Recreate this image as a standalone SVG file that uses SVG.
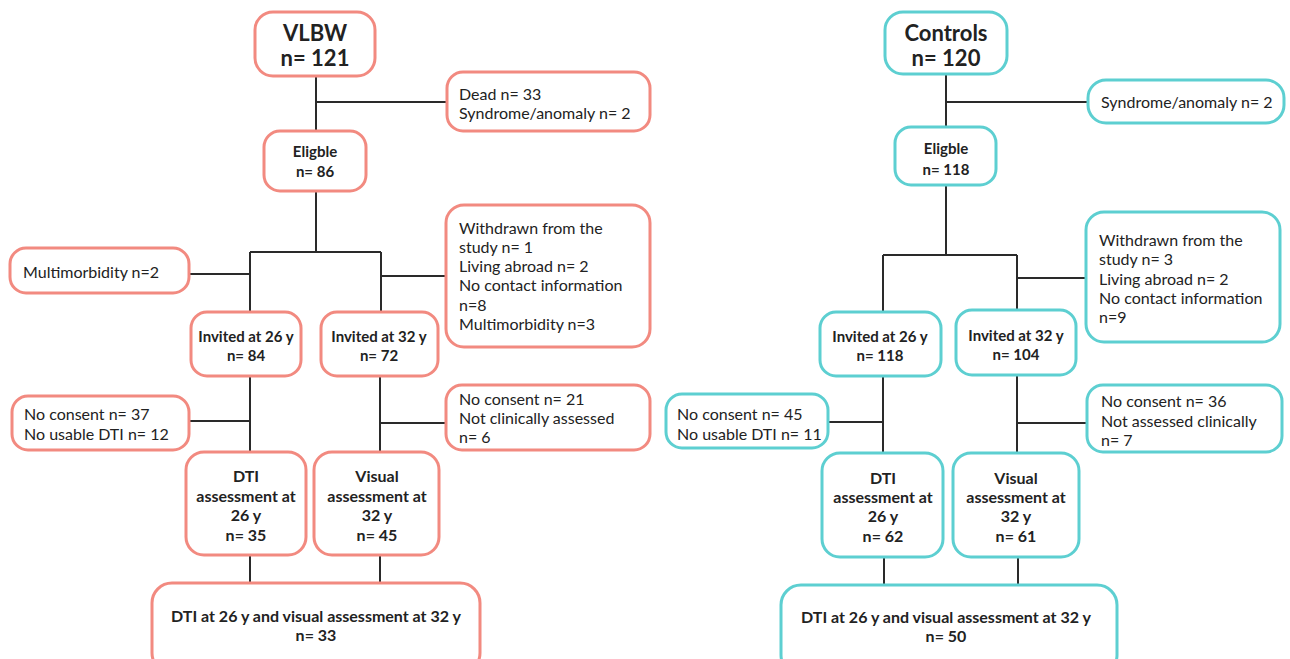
<svg xmlns="http://www.w3.org/2000/svg" width="1290" height="659" viewBox="0 0 1290 659">
<style>
.bg{fill:#ffffff}
.s{fill:#ffffff;stroke:#f28a80;stroke-width:3}
.c{fill:#ffffff;stroke:#5dcfd1;stroke-width:3}
.t{font-family:Lato,"Liberation Sans",sans-serif;font-size:16px;fill:#222}
.b{font-family:Lato,"Liberation Sans",sans-serif;font-size:15px;font-weight:bold;fill:#222;text-anchor:middle}
.bl{font-size:16px}
.h{font-family:Lato,"Liberation Sans",sans-serif;font-size:22px;font-weight:bold;fill:#222;text-anchor:middle}
.ln{stroke:#2a2a2a;stroke-width:2;fill:none}
</style>
<rect class="bg" x="0" y="0" width="1290" height="659"/>
<g id="connectors">
<path class="ln" d="M316 76V132M316 102H447M316 190V252M250 252H381M250 252V312M381 252V312M189 274H250M381 276H446M250 376V452M189 421H250M380 376V452M380 423H446M250 555V583M380 555V583"/>
<path class="ln" d="M946 73V127M946 102H1088M946 185V255M883 255H1017M883 255V312M1017 255V310M1017 278H1086M883 375V453M828 422H883M1017 375V453M1017 423H1087M884 557V585M1018 557V585"/>
</g>
<g id="vlbw"><rect class="s" x="255" y="12" width="120" height="64" rx="18"/><text class="h" x="315" y="41">VLBW</text><text class="h" x="315" y="66">n= 121</text></g>
<g id="vlbw-excl1"><rect class="s" x="447" y="72" width="203" height="59" rx="16"/><text class="t" x="459" y="100">Dead n= 33</text><text class="t" x="459" y="119">Syndrome/anomaly n= 2</text></g>
<g id="vlbw-eligible"><rect class="s" x="264" y="131" width="102" height="60" rx="16"/><text class="b" x="315" y="157">Eligble</text><text class="b" x="315" y="177">n= 86</text></g>
<g id="vlbw-multi"><rect class="s" x="10" y="248" width="179" height="45" rx="16"/><text class="t" x="23" y="278">Multimorbidity n=2</text></g>
<g id="vlbw-excl2"><rect class="s" x="446" y="205" width="204" height="142" rx="18"/><text class="t" x="459" y="234">Withdrawn from the</text><text class="t" x="459" y="253">study n= 1</text><text class="t" x="459" y="272">Living abroad n= 2</text><text class="t" x="459" y="291">No contact information</text><text class="t" x="459" y="311">n=8</text><text class="t" x="459" y="330">Multimorbidity n=3</text></g>
<g id="vlbw-inv26"><rect class="s" x="191" y="312" width="110" height="64" rx="16"/><text class="b" x="246" y="342">Invited at 26 y</text><text class="b" x="246" y="361">n= 84</text></g>
<g id="vlbw-inv32"><rect class="s" x="321" y="312" width="117" height="64" rx="16"/><text class="b" x="379" y="342">Invited at 32 y</text><text class="b" x="379" y="361">n= 72</text></g>
<g id="vlbw-excl3"><rect class="s" x="12" y="396" width="177" height="54" rx="16"/><text class="t" x="24" y="420">No consent n= 37</text><text class="t" x="24" y="440">No usable DTI n= 12</text></g>
<g id="vlbw-excl4"><rect class="s" x="446" y="385" width="204" height="65" rx="16"/><text class="t" x="459" y="405">No consent n= 21</text><text class="t" x="459" y="424">Not clinically assessed</text><text class="t" x="459" y="443">n= 6</text></g>
<g id="vlbw-dti"><rect class="s" x="186" y="452" width="120" height="103" rx="18"/><text class="b bl" x="246" y="482">DTI</text><text class="b bl" x="246" y="502">assessment at</text><text class="b bl" x="246" y="521">26 y</text><text class="b bl" x="246" y="541">n= 35</text></g>
<g id="vlbw-visual"><rect class="s" x="314" y="452" width="125" height="103" rx="18"/><text class="b bl" x="377" y="482">Visual</text><text class="b bl" x="377" y="502">assessment at</text><text class="b bl" x="377" y="521">32 y</text><text class="b bl" x="377" y="541">n= 45</text></g>
<g id="vlbw-final"><rect class="s" x="152" y="583" width="328" height="90" rx="20"/><text class="b bl" x="316" y="622">DTI at 26 y and visual assessment at 32 y</text><text class="b bl" x="316" y="641">n= 33</text></g>
<g id="ctrl"><rect class="c" x="885" y="12" width="122" height="62" rx="18"/><text class="h" x="946" y="41">Controls</text><text class="h" x="946" y="66">n= 120</text></g>
<g id="ctrl-excl1"><rect class="c" x="1088" y="80" width="196" height="43" rx="18"/><text class="t" x="1101" y="108">Syndrome/anomaly n= 2</text></g>
<g id="ctrl-eligible"><rect class="c" x="895" y="127" width="101" height="58" rx="16"/><text class="b" x="946" y="154">Eligble</text><text class="b" x="946" y="175">n= 118</text></g>
<g id="ctrl-excl2"><rect class="c" x="1086" y="212" width="194" height="130" rx="18"/><text class="t" x="1099" y="246">Withdrawn from the</text><text class="t" x="1099" y="265">study n= 3</text><text class="t" x="1099" y="285">Living abroad n= 2</text><text class="t" x="1099" y="304">No contact information</text><text class="t" x="1099" y="323">n=9</text></g>
<g id="ctrl-inv26"><rect class="c" x="820" y="312" width="121" height="64" rx="16"/><text class="b" x="880" y="342">Invited at 26 y</text><text class="b" x="880" y="361">n= 118</text></g>
<g id="ctrl-inv32"><rect class="c" x="956" y="310" width="120" height="65" rx="16"/><text class="b" x="1016" y="341">Invited at 32 y</text><text class="b" x="1016" y="360">n= 104</text></g>
<g id="ctrl-excl3"><rect class="c" x="666" y="394" width="162" height="54" rx="16"/><text class="t" x="677" y="420">No consent n= 45</text><text class="t" x="677" y="440">No usable DTI n= 11</text></g>
<g id="ctrl-excl4"><rect class="c" x="1087" y="385" width="195" height="67" rx="16"/><text class="t" x="1101" y="407">No consent n= 36</text><text class="t" x="1101" y="427">Not assessed clinically</text><text class="t" x="1101" y="446">n= 7</text></g>
<g id="ctrl-dti"><rect class="c" x="822" y="453" width="121" height="104" rx="18"/><text class="b bl" x="883" y="484">DTI</text><text class="b bl" x="883" y="503">assessment at</text><text class="b bl" x="883" y="522">26 y</text><text class="b bl" x="883" y="542">n= 62</text></g>
<g id="ctrl-visual"><rect class="c" x="953" y="453" width="126" height="104" rx="18"/><text class="b bl" x="1016" y="484">Visual</text><text class="b bl" x="1016" y="503">assessment at</text><text class="b bl" x="1016" y="522">32 y</text><text class="b bl" x="1016" y="542">n= 61</text></g>
<g id="ctrl-final"><rect class="c" x="781" y="585" width="336" height="90" rx="20"/><text class="b bl" x="946" y="623">DTI at 26 y and visual assessment at 32 y</text><text class="b bl" x="946" y="642">n= 50</text></g>
</svg>
